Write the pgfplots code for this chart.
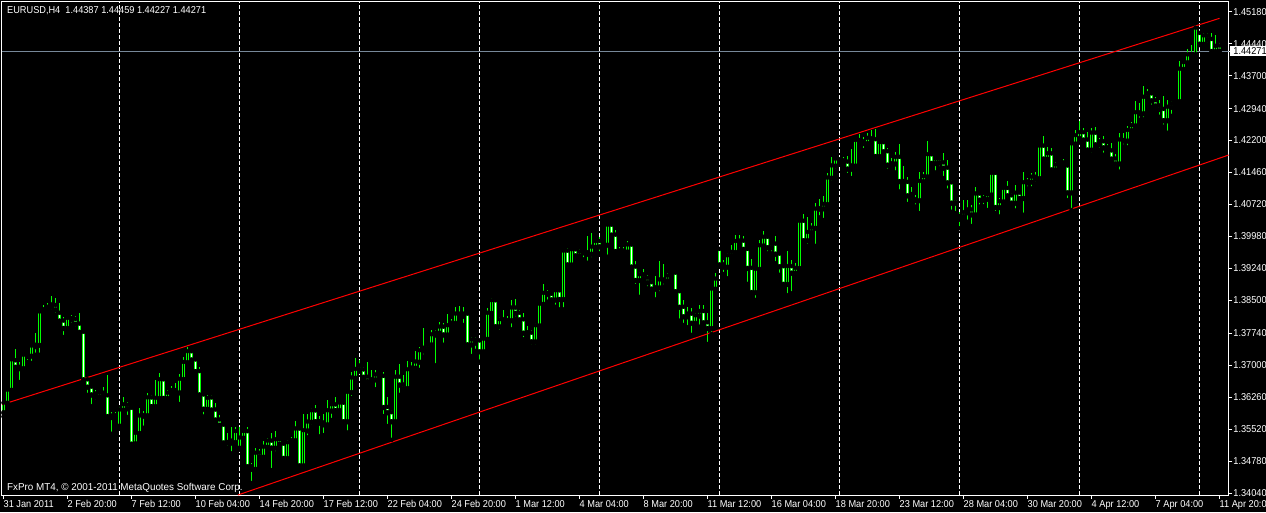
\documentclass[border=0pt]{standalone}
\usepackage{fontspec}
\setmainfont{Liberation Sans}
\newfontfamily\mtfont{Liberation Sans}[FakeStretch=0.92]
\newfontfamily\cpfont{Liberation Sans}[FakeStretch=0.985]
\usepackage{pgfplots}
\usepackage{pgfplotstable}
\pgfplotsset{compat=1.18}
\definecolor{mtlime}{RGB}{0,255,0}
\definecolor{mtred}{RGB}{255,0,0}
\definecolor{bidline}{RGB}{119,136,153}

\pgfplotstableread{
i O H L C
0 1.3590 1.3617 1.3581 1.3612
1 1.3612 1.3647 1.3610 1.3642
2 1.3642 1.3712 1.3638 1.3712
3 1.3710 1.3737 1.3686 1.3695
4 1.3695 1.3707 1.3661 1.3692
5 1.3692 1.3726 1.3689 1.3723
6 1.3723 1.3728 1.3707 1.3720
7 1.3721 1.3749 1.3705 1.3744
8 1.3743 1.3774 1.3724 1.3746
9 1.3746 1.3826 1.3724 1.3823
10 1.3823 1.3839 1.3820 1.3828
11 1.3828 1.3844 1.3821 1.3834
12 1.3834 1.3860 1.3823 1.3839
13 1.3838 1.3855 1.3816 1.3828
14 1.3820 1.3844 1.3798 1.3802
15 1.3802 1.3811 1.3765 1.3785
16 1.3785 1.3814 1.3781 1.3808
17 1.3808 1.3816 1.3793 1.3805
18 1.3806 1.3814 1.3784 1.3795
19 1.3795 1.3821 1.3770 1.3776
20 1.3776 1.3777 1.3662 1.3666
21 1.3666 1.3673 1.3631 1.3649
22 1.3649 1.3652 1.3605 1.3631
23 1.3633 1.3642 1.3615 1.3626
24 1.3626 1.3639 1.3618 1.3635
25 1.3635 1.3649 1.3619 1.3630
26 1.3629 1.3677 1.3577 1.3581
27 1.3582 1.3592 1.3541 1.3579
28 1.3579 1.3592 1.3573 1.3583
29 1.3559 1.3604 1.3557 1.3596
30 1.3596 1.3626 1.3592 1.3608
31 1.3607 1.3615 1.3580 1.3599
32 1.3600 1.3604 1.3515 1.3517
33 1.3518 1.3546 1.3508 1.3542
34 1.3542 1.3600 1.3541 1.3582
35 1.3582 1.3594 1.3555 1.3583
36 1.3583 1.3636 1.3580 1.3624
37 1.3624 1.3631 1.3602 1.3604
38 1.3604 1.3666 1.3600 1.3623
39 1.3623 1.3682 1.3622 1.3666
40 1.3666 1.3667 1.3619 1.3623
41 1.3623 1.3642 1.3620 1.3635
42 1.3635 1.3652 1.3631 1.3641
43 1.3641 1.3658 1.3631 1.3635
44 1.3636 1.3680 1.3610 1.3667
45 1.3667 1.3720 1.3666 1.3706
46 1.3706 1.3743 1.3704 1.3731
47 1.3731 1.3735 1.3708 1.3712
48 1.3712 1.3715 1.3680 1.3685
49 1.3685 1.3695 1.3627 1.3631
50 1.3631 1.3635 1.3581 1.3598
51 1.3598 1.3631 1.3592 1.3623
52 1.3624 1.3631 1.3592 1.3596
53 1.3596 1.3612 1.3569 1.3573
54 1.3573 1.3585 1.3557 1.3561
55 1.3561 1.3565 1.3519 1.3520
56 1.3521 1.3542 1.3508 1.3520
57 1.3520 1.3557 1.3496 1.3524
58 1.3521 1.3557 1.3517 1.3546
59 1.3508 1.3557 1.3504 1.3531
60 1.3531 1.3550 1.3527 1.3546
61 1.3546 1.3557 1.3461 1.3465
62 1.3465 1.3473 1.3427 1.3459
63 1.3459 1.3508 1.3450 1.3496
64 1.3496 1.3506 1.3476 1.3487
65 1.3487 1.3525 1.3484 1.3510
66 1.3510 1.3531 1.3502 1.3524
67 1.3524 1.3542 1.3457 1.3508
68 1.3508 1.3548 1.3496 1.3527
69 1.3527 1.3531 1.3513 1.3517
70 1.3517 1.3523 1.3474 1.3484
71 1.3484 1.3527 1.3480 1.3520
72 1.3520 1.3534 1.3519 1.3525
73 1.3525 1.3571 1.3519 1.3552
74 1.3552 1.3557 1.3461 1.3467
75 1.3467 1.3587 1.3461 1.3548
76 1.3548 1.3587 1.3533 1.3568
77 1.3568 1.3600 1.3557 1.3594
78 1.3594 1.3608 1.3561 1.3569
79 1.3569 1.3582 1.3535 1.3566
80 1.3566 1.3587 1.3538 1.3562
81 1.3562 1.3619 1.3559 1.3594
82 1.3594 1.3612 1.3573 1.3608
83 1.3608 1.3626 1.3592 1.3595
84 1.3595 1.3615 1.3585 1.3612
85 1.3612 1.3615 1.3565 1.3569
86 1.3569 1.3642 1.3544 1.3637
87 1.3637 1.3685 1.3624 1.3670
88 1.3670 1.3716 1.3667 1.3690
89 1.3690 1.3712 1.3685 1.3698
90 1.3689 1.3695 1.3666 1.3672
91 1.3672 1.3707 1.3659 1.3662
92 1.3662 1.3689 1.3652 1.3666
93 1.3666 1.3689 1.3644 1.3677
94 1.3677 1.3681 1.3666 1.3674
95 1.3674 1.3683 1.3582 1.3602
96 1.3602 1.3627 1.3559 1.3590
97 1.3590 1.3596 1.3527 1.3569
98 1.3569 1.3689 1.3567 1.3672
99 1.3672 1.3703 1.3631 1.3654
100 1.3654 1.3677 1.3644 1.3646
101 1.3646 1.3710 1.3644 1.3689
102 1.3689 1.3708 1.3681 1.3693
103 1.3693 1.3733 1.3685 1.3707
104 1.3707 1.3743 1.3689 1.3733
105 1.3733 1.3785 1.3720 1.3739
106 1.3739 1.3752 1.3729 1.3747
107 1.3747 1.3781 1.3739 1.3770
108 1.3770 1.3781 1.3700 1.3774
109 1.3774 1.3801 1.3766 1.3788
110 1.3788 1.3798 1.3747 1.3770
111 1.3770 1.3818 1.3766 1.3791
112 1.3791 1.3806 1.3785 1.3797
113 1.3797 1.3835 1.3793 1.3818
114 1.3818 1.3837 1.3808 1.3813
115 1.3813 1.3835 1.3793 1.3818
116 1.3818 1.3820 1.3744 1.3747
117 1.3747 1.3766 1.3721 1.3758
118 1.3758 1.3765 1.3733 1.3751
119 1.3756 1.3760 1.3708 1.3731
120 1.3731 1.3766 1.3726 1.3760
121 1.3760 1.3832 1.3757 1.3820
122 1.3820 1.3855 1.3811 1.3849
123 1.3849 1.3852 1.3783 1.3789
124 1.3789 1.3811 1.3777 1.3805
125 1.3805 1.3828 1.3793 1.3802
126 1.3802 1.3814 1.3797 1.3803
127 1.3803 1.3851 1.3783 1.3832
128 1.3832 1.3853 1.3808 1.3820
129 1.3820 1.3828 1.3797 1.3805
130 1.3805 1.3820 1.3760 1.3774
131 1.3774 1.3791 1.3766 1.3775
132 1.3774 1.3781 1.3743 1.3754
133 1.3754 1.3797 1.3743 1.3791
134 1.3791 1.3843 1.3785 1.3841
135 1.3841 1.3888 1.3835 1.3866
136 1.3866 1.3874 1.3847 1.3864
137 1.3864 1.3870 1.3845 1.3851
138 1.3851 1.3876 1.3835 1.3872
139 1.3872 1.3876 1.3829 1.3852
140 1.3852 1.3968 1.3829 1.3964
141 1.3964 1.3971 1.3922 1.3932
142 1.3932 1.3971 1.3927 1.3967
143 1.3967 1.3968 1.3945 1.3953
144 1.3953 1.3968 1.3945 1.3962
145 1.3962 1.3967 1.3945 1.3960
146 1.3960 1.3999 1.3937 1.3957
147 1.3957 1.4007 1.3945 1.3973
148 1.3973 1.3991 1.3968 1.3986
149 1.3986 1.3997 1.3959 1.3974
150 1.3974 1.3986 1.3965 1.3980
151 1.3978 1.4028 1.3951 1.4024
152 1.4024 1.4030 1.3999 1.4001
153 1.4001 1.4013 1.3960 1.3963
154 1.3963 1.3974 1.3953 1.3964
155 1.3964 1.3974 1.3953 1.3962
156 1.3962 1.3988 1.3953 1.3978
157 1.3978 1.3983 1.3924 1.3927
158 1.3927 1.3942 1.3883 1.3896
159 1.3896 1.3916 1.3858 1.3909
160 1.3909 1.3922 1.3893 1.3901
161 1.3901 1.3909 1.3878 1.3891
162 1.3891 1.3897 1.3874 1.3876
163 1.3876 1.3906 1.3852 1.3879
164 1.3879 1.3940 1.3866 1.3897
165 1.3897 1.3934 1.3882 1.3895
166 1.3895 1.3913 1.3893 1.3906
167 1.3906 1.3919 1.3897 1.3913
168 1.3913 1.3919 1.3868 1.3870
169 1.3870 1.3876 1.3803 1.3834
170 1.3834 1.3851 1.3793 1.3812
171 1.3812 1.3834 1.3788 1.3818
172 1.3818 1.3832 1.3770 1.3797
173 1.3797 1.3820 1.3789 1.3814
174 1.3814 1.3839 1.3789 1.3824
175 1.3824 1.3839 1.3789 1.3798
176 1.3798 1.3820 1.3749 1.3785
177 1.3785 1.3882 1.3772 1.3876
178 1.3876 1.3913 1.3866 1.3899
179 1.3968 1.3971 1.3928 1.3932
180 1.3932 1.3943 1.3911 1.3927
181 1.3927 1.3960 1.3901 1.3953
182 1.3953 1.3978 1.3950 1.3961
183 1.3961 1.4001 1.3959 1.3986
184 1.3986 1.4001 1.3978 1.3987
185 1.3987 1.3999 1.3965 1.3968
186 1.3968 1.3972 1.3888 1.3924
187 1.3924 1.3945 1.3866 1.3868
188 1.3868 1.3924 1.3851 1.3922
189 1.3922 1.3990 1.3919 1.3976
190 1.3976 1.4011 1.3973 1.3996
191 1.3996 1.4001 1.3959 1.3972
192 1.3972 1.3986 1.3959 1.3980
193 1.3980 1.3999 1.3936 1.3957
194 1.3957 1.3963 1.3909 1.3928
195 1.3928 1.3932 1.3886 1.3887
196 1.3887 1.3965 1.3862 1.3928
197 1.3928 1.3943 1.3866 1.3913
198 1.3913 1.3937 1.3905 1.3924
199 1.3924 1.4034 1.3923 1.4033
200 1.4033 1.4050 1.3986 1.3988
201 1.3988 1.4042 1.3976 1.4007
202 1.4007 1.4030 1.4001 1.4017
203 1.4017 1.4075 1.3976 1.4061
204 1.4061 1.4084 1.4042 1.4062
205 1.4062 1.4092 1.4036 1.4072
206 1.4072 1.4144 1.4068 1.4133
207 1.4133 1.4181 1.4122 1.4161
208 1.4161 1.4181 1.4150 1.4177
209 1.4175 1.4181 1.4166 1.4173
210 1.4173 1.4181 1.4161 1.4170
211 1.4170 1.4184 1.4140 1.4154
212 1.4154 1.4200 1.4133 1.4161
213 1.4161 1.4223 1.4159 1.4220
214 1.4220 1.4235 1.4210 1.4217
215 1.4217 1.4228 1.4198 1.4213
216 1.4213 1.4237 1.4207 1.4225
217 1.4224 1.4244 1.4217 1.4222
218 1.4222 1.4246 1.4175 1.4183
219 1.4183 1.4217 1.4181 1.4215
220 1.4215 1.4217 1.4189 1.4194
221 1.4194 1.4202 1.4150 1.4163
222 1.4163 1.4179 1.4158 1.4166
223 1.4166 1.4194 1.4146 1.4181
224 1.4181 1.4212 1.4102 1.4125
225 1.4125 1.4161 1.4117 1.4123
226 1.4123 1.4136 1.4073 1.4092
227 1.4092 1.4113 1.4082 1.4095
228 1.4083 1.4094 1.4067 1.4081
229 1.4081 1.4146 1.4052 1.4125
230 1.4125 1.4148 1.4115 1.4136
231 1.4136 1.4220 1.4133 1.4187
232 1.4187 1.4190 1.4166 1.4167
233 1.4167 1.4181 1.4146 1.4177
234 1.4177 1.4181 1.4156 1.4168
235 1.4168 1.4190 1.4133 1.4156
236 1.4156 1.4175 1.4104 1.4122
237 1.4122 1.4129 1.4055 1.4075
238 1.4075 1.4090 1.4052 1.4084
239 1.4038 1.4055 1.4017 1.4044
240 1.4044 1.4082 1.4036 1.4053
241 1.4053 1.4082 1.4032 1.4059
242 1.4059 1.4071 1.4022 1.4048
243 1.4048 1.4113 1.4042 1.4096
244 1.4096 1.4102 1.4067 1.4082
245 1.4082 1.4094 1.4068 1.4086
246 1.4084 1.4098 1.4059 1.4094
247 1.4094 1.4148 1.4092 1.4144
248 1.4144 1.4146 1.4052 1.4065
249 1.4065 1.4086 1.4044 1.4078
250 1.4078 1.4112 1.4073 1.4109
251 1.4109 1.4127 1.4086 1.4092
252 1.4092 1.4099 1.4071 1.4075
253 1.4075 1.4117 1.4058 1.4098
254 1.4098 1.4102 1.4078 1.4086
255 1.4086 1.4146 1.4048 1.4122
256 1.4122 1.4133 1.4109 1.4124
257 1.4124 1.4144 1.4109 1.4135
258 1.4135 1.4146 1.4121 1.4132
259 1.4132 1.4212 1.4130 1.4207
260 1.4207 1.4231 1.4168 1.4177
261 1.4177 1.4204 1.4167 1.4189
262 1.4189 1.4202 1.4148 1.4152
263 1.4152 1.4171 1.4148 1.4163
264 1.4163 1.4173 1.4156 1.4168
265 1.4168 1.4177 1.4159 1.4161
266 1.4161 1.4166 1.4082 1.4099
267 1.4099 1.4214 1.4059 1.4212
268 1.4212 1.4244 1.4206 1.4231
269 1.4225 1.4266 1.4215 1.4238
270 1.4238 1.4248 1.4215 1.4221
271 1.4221 1.4240 1.4194 1.4198
272 1.4198 1.4248 1.4187 1.4237
273 1.4237 1.4251 1.4206 1.4210
274 1.4210 1.4225 1.4198 1.4217
275 1.4217 1.4231 1.4187 1.4203
276 1.4203 1.4212 1.4194 1.4196
277 1.4196 1.4214 1.4175 1.4177
278 1.4177 1.4189 1.4156 1.4166
279 1.4166 1.4237 1.4148 1.4221
280 1.4220 1.4237 1.4206 1.4219
281 1.4219 1.4254 1.4204 1.4243
282 1.4243 1.4264 1.4237 1.4254
283 1.4254 1.4312 1.4251 1.4284
284 1.4284 1.4308 1.4268 1.4282
285 1.4282 1.4346 1.4269 1.4320
286 1.4320 1.4339 1.4314 1.4328
287 1.4328 1.4331 1.4298 1.4312
288 1.4312 1.4321 1.4295 1.4300
289 1.4300 1.4314 1.4275 1.4292
290 1.4292 1.4323 1.4252 1.4266
291 1.4266 1.4314 1.4238 1.4297
292 1.4297 1.4312 1.4277 1.4305
293 1.4305 1.4314 1.4298 1.4310
294 1.4310 1.4403 1.4306 1.4385
295 1.4385 1.4405 1.4377 1.4400
296 1.4400 1.4431 1.4399 1.4418
297 1.4418 1.4441 1.4410 1.4419
298 1.4419 1.4484 1.4416 1.4480
299 1.4468 1.4472 1.4441 1.4443
300 1.4443 1.4470 1.4434 1.4462
301 1.4462 1.4468 1.4443 1.4454
302 1.4454 1.4468 1.4422 1.4426
303 1.4426 1.4464 1.4420 1.4438
304 1.44387 1.44459 1.44227 1.44271
}\candles

\begin{document}
\begin{tikzpicture}[x=1pt,y=1pt]
\path[use as bounding box, fill=black] (0,0) rectangle (1266,512);
\begin{axis}[
  at={(2pt,17pt)}, anchor=south west,
  scale only axis, width=1226.7pt, height=493pt,
  xmin=-0.375, xmax=306.3, ymin=1.33994, ymax=1.45407,
  axis line style={white, line width=1pt},
  tick style={white, line width=1pt},
  major tick length=3.5pt,
  tick align=outside,
  xtick pos=bottom, ytick pos=right, yticklabel pos=right,
  scaled y ticks=false,
  xtick={0,16,32,48,64,80,96,112,128,144,160,176,192,208,224,240,256,272,288,304},
  xticklabels={31 Jan 2011, 2 Feb 20:00, 7 Feb 12:00, 10 Feb 04:00, 14 Feb 20:00, 17 Feb 12:00, 22 Feb 04:00, 24 Feb 20:00, 1 Mar 12:00, 4 Mar 04:00, 8 Mar 20:00, 11 Mar 12:00, 16 Mar 04:00, 18 Mar 20:00, 23 Mar 12:00, 28 Mar 04:00, 30 Mar 20:00, 4 Apr 12:00, 7 Apr 04:00, 11 Apr 20:00},
  ytick={1.34040,1.34780,1.35520,1.36260,1.37000,1.37740,1.38500,1.39240,1.39980,1.40720,1.41460,1.42200,1.42940,1.43700,1.44440,1.45180},
  yticklabels={1.34040,1.34780,1.35520,1.36260,1.37000,1.37740,1.38500,1.39240,1.39980,1.40720,1.41460,1.42200,1.42940,1.43700,1.44440,1.45180},
  tick label style={font=\mtfont\fontsize{10}{12}\selectfont, text=white},
  xticklabel style={anchor=north west, inner sep=0pt, yshift=-2pt},
  yticklabel style={anchor=west, inner sep=0pt, xshift=1pt},
  extra x ticks={29,59,89,119,149,179,209,239,269,299},
  extra x tick labels={},
  extra x tick style={grid=major, major grid style={white, line width=1pt, dash pattern=on 4pt off 2pt}, major tick length=0pt},
  extra y ticks={1.44271},
  extra y tick labels={1.44271},
  extra y tick style={grid=major, major grid style={bidline, line width=1pt},
     yticklabel style={fill=white, text=black, inner xsep=3.5pt, inner ysep=1.4pt, xshift=-3.5pt}},
]
% wicks
\addplot[only marks, mark=none,
  error bars/.cd, y dir=plus, y explicit, error mark=none,
  error bar style={draw=mtlime, line width=1pt, line cap=butt}]
  table[x=i, y=L, y error plus expr={\thisrow{H}-\thisrow{L}}] {\candles};
% bodies
\addplot[only marks, mark=none,
  error bars/.cd, y dir=plus, y explicit, error mark=none,
  error bar style={draw=mtlime, line width=3pt, line cap=butt}]
  table[x=i, y expr={min(\thisrow{O},\thisrow{C})-0.00011575},
        y error plus expr={abs(\thisrow{O}-\thisrow{C})+0.0002315}] {\candles};
% bear bodies: white inside
\addplot[only marks, mark=none,
  error bars/.cd, y dir=plus, y explicit, error mark=none,
  error bar style={draw=white, line width=1pt, line cap=butt}]
  table[x=i, y expr={\thisrow{C}+0.00011575},
        y error plus expr={max(\thisrow{O}-\thisrow{C}-0.0002315,0)}] {\candles};
% bull bodies: black inside
\addplot[only marks, mark=none,
  error bars/.cd, y dir=plus, y explicit, error mark=none,
  error bar style={draw=black, line width=1pt, line cap=butt}]
  table[x=i, y expr={\thisrow{O}+0.00011575},
        y error plus expr={max(\thisrow{C}-\thisrow{O}-0.0002315,0)}] {\candles};
% channel lines
\addplot[mtred, line width=1pt, mark=none] coordinates {(-0.375,1.36087) (304,1.45029)};
\addplot[mtred, line width=1pt, mark=none] coordinates {(58.6,1.33994) (306.3,1.41865)};
\end{axis}
\node[anchor=base west, text=white, inner sep=0pt, font=\mtfont\fontsize{10}{12}\selectfont] at (7,498) {EURUSD,H4\ \ 1.44387 1.44459 1.44227 1.44271};
\node[anchor=base west, text=white, inner sep=0pt, font=\cpfont\fontsize{10}{12}\selectfont] at (7,21.5) {FxPro MT4, \textcopyright{} 2001-2011 MetaQuotes Software Corp.};
\end{tikzpicture}
\end{document}
